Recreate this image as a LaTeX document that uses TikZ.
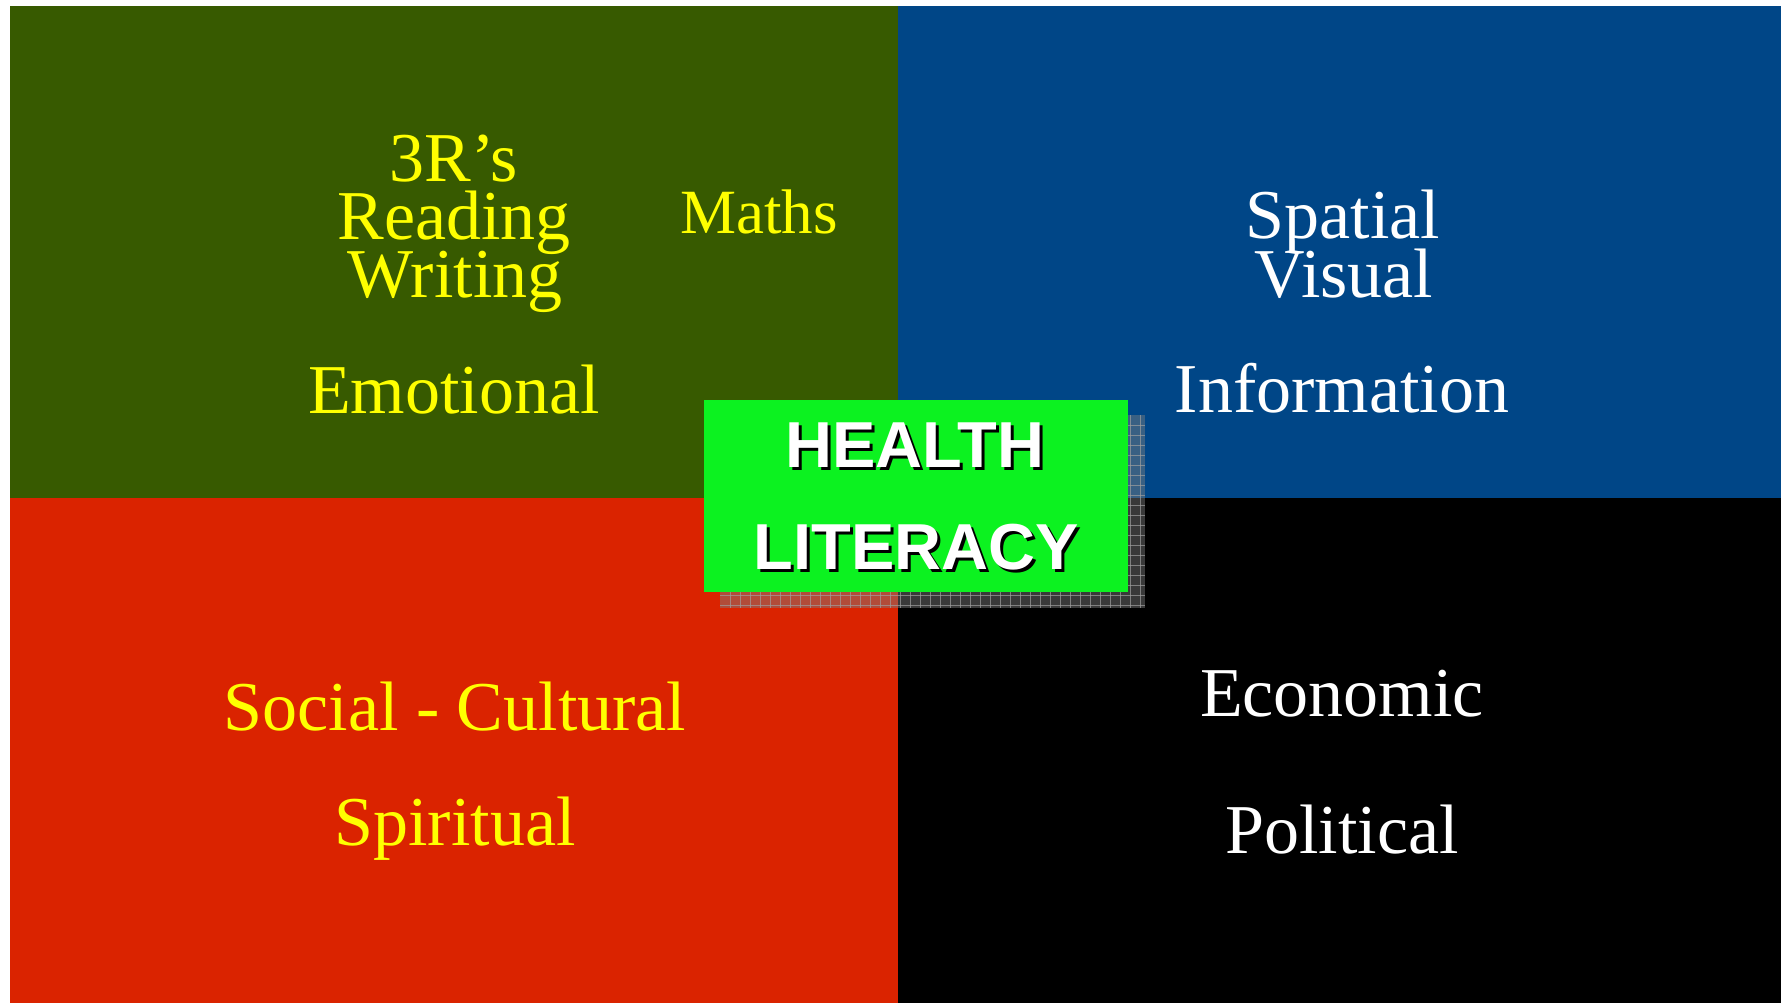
\documentclass[tikz,border=0pt]{standalone}
\usepackage{fontspec}
\setmainfont{Liberation Serif}
\newfontfamily\hfont{Liberation Sans}
\definecolor{qgreen}{HTML}{375A00}
\definecolor{qblue}{HTML}{004687}
\definecolor{qred}{HTML}{DA2300}
\definecolor{boxgreen}{HTML}{0CF220}
\definecolor{ylw}{HTML}{FFFF00}
\tikzset{
  lbl/.style={anchor=base, inner sep=0pt, font=\fontsize{35}{40}\selectfont},
  ylbl/.style={lbl, text=ylw},
  wlbl/.style={lbl, text=white},
  hl/.style={anchor=base, inner sep=0pt, font=\hfont\bfseries\fontsize{32.5}{36}\selectfont},
  gridline/.style={draw=gray!75, opacity=0.7, line width=0.5pt},
}
\begin{document}
\begin{tikzpicture}[x=0.5pt,y=-0.5pt]
\useasboundingbox (0,0) rectangle (1781,1003);
\fill[white] (0,0) rectangle (1781,1003);
% quadrants
\fill[qgreen] (10,6) rectangle (898,498);
\fill[qblue] (898,6) rectangle (1781,498);
\fill[qred] (10,498) rectangle (898,1003);
\fill[black] (898,498) rectangle (1781,1003);
% shadow box with grid
\fill[gray, opacity=0.45] (720,415) rectangle (1145,608);
\foreach \gx in {730,740,...,1140} {\path[gridline] (\gx,415) -- (\gx,608);}
\foreach \gy in {425,435,...,605} {\path[gridline] (720,\gy) -- (1145,\gy);}
% central box
\fill[boxgreen] (704,400) rectangle (1128,592);
% central text with shadow
\node[hl, text=black] (h1s) at (918,470) {HEALTH};
\node[hl, text=white] (h1) at (915,467) {HEALTH};
\node[hl, text=black] (h2s) at (919,572) {LITERACY};
\node[hl, text=white] (h2) at (916,569) {LITERACY};
% top-left
\node[ylbl] (t3r) at (454,181) {3R’s};
\node[ylbl] (tread) at (454,239) {Reading};
\node[ylbl] (twrite) at (455,297) {Writing};
\node[ylbl, font=\fontsize{31.5}{36}\selectfont] (tmaths) at (759,233) {Maths};
\node[ylbl] (temo) at (454,413) {Emotional};
% top-right
\node[wlbl] (tspat) at (1343,238) {Spatial};
\node[wlbl] (tvis) at (1344,297) {Visual};
\node[wlbl] (tinfo) at (1342,412) {Information};
% bottom-left
\node[ylbl] (tsoc) at (455,730) {Social - Cultural};
\node[ylbl] (tspir) at (455,845) {Spiritual};
% bottom-right
\node[wlbl] (teco) at (1342,716) {Economic};
\node[wlbl] (tpol) at (1342,853) {Political};
\end{tikzpicture}
\end{document}
